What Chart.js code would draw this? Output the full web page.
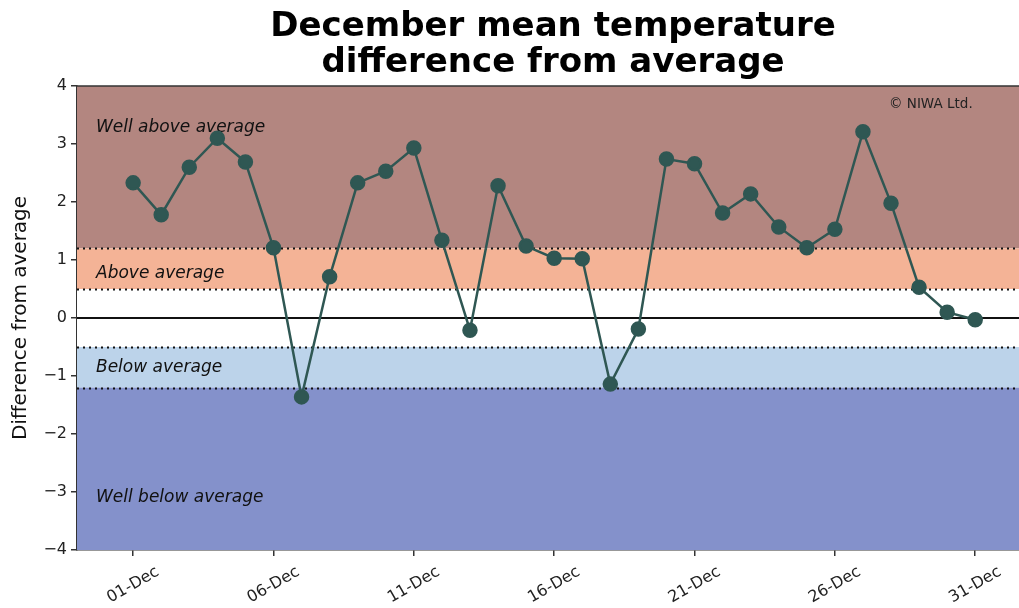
<!DOCTYPE html>
<html>
<head>
<meta charset="utf-8">
<script src="https://cdn.jsdelivr.net/npm/chart.js@4.4.0/dist/chart.umd.min.js"></script>
<style>
  html, body { margin: 0; padding: 0; background: #fff; }
  #wrap { width: 1019px; height: 608px; }
</style>
</head>
<body>
<div id="wrap"><canvas id="grafico" width="1019" height="608"></canvas></div>
<script>
// dias de dezembro e anomalias
const dias = [1,2,3,4,5,6,7,8,9,10,11,12,13,14,15,16,17,18,19,20,21,22,23,24,25,26,27,28,29,30,31];
const anomalias = [2.33,1.78,2.60,3.10,2.69,1.21,-1.36,0.71,2.33,2.53,2.93,1.34,-0.21,2.28,1.24,1.03,1.02,-1.14,-0.19,2.74,2.66,1.81,2.14,1.57,1.21,1.53,3.21,1.98,0.53,0.10,-0.03];
const diasTicks = [1,6,11,16,21,26,31];
const yTicks = [-4,-3,-2,-1,0,1,2,3,4];
// limites das faixas
const faixasLimites = [4, 1.2, 0.5, -0.5, -1.2, -4];
const faixasCores = ['#b38680', '#f4b396', '#ffffff', '#bcd3ea', '#8491cb'];
const faixasNomes = ['Well above average', 'Above average', '', 'Below average', 'Well below average'];
const linhasPontilhadas = [1.2, 0.5, -0.5, -1.2];

window.addEventListener('load', () => {
  const ctx = document.getElementById('grafico').getContext('2d');
  const fonte = '"DejaVu Sans", sans-serif';

  const faixasPlugin = {
    id: 'faixas',
    beforeDatasetsDraw(chart) {
      const c = chart.ctx, a = chart.chartArea, y = chart.scales.y;
      c.save();
      for (let i = 0; i < faixasCores.length; i++) {
        const y1 = y.getPixelForValue(faixasLimites[i]);
        const y2 = y.getPixelForValue(faixasLimites[i + 1]);
        c.fillStyle = faixasCores[i];
        c.fillRect(a.left, y1, a.right - a.left, y2 - y1);
      }
      // linhas pontilhadas
      c.strokeStyle = '#111';
      c.lineWidth = 2;
      c.setLineDash([2, 4]);
      linhasPontilhadas.forEach(v => {
        const py = Math.round(y.getPixelForValue(v)) + 0.5;
        c.beginPath(); c.moveTo(a.left, py); c.lineTo(a.right, py); c.stroke();
      });
      c.setLineDash([]);
      // linha zero
      const p0 = y.getPixelForValue(0);
      c.beginPath(); c.moveTo(a.left, p0); c.lineTo(a.right, p0); c.stroke();
      // textos das faixas
      c.fillStyle = '#111';
      c.font = 'italic 17px ' + fonte;
      c.textBaseline = 'middle';
      const posY = [3.29, 0.76, 0, -0.86, -3.1];
      faixasNomes.forEach((n, i) => {
        if (n) c.fillText(n, a.left + 19, y.getPixelForValue(posY[i]));
      });
      c.font = '13.5px ' + fonte;
      c.fillStyle = '#222';
      c.fillText('\u00a9 NIWA Ltd.', 889, 104);
      // borda superior
      c.strokeStyle = '#333';
      c.lineWidth = 1.5;
      c.beginPath(); c.moveTo(a.left, a.top); c.lineTo(a.right, a.top); c.stroke();
      c.restore();
    },
    afterDraw(chart) {
      const c = chart.ctx, x = chart.scales.x, a = chart.chartArea;
      c.save();
      // título
      c.fillStyle = '#000';
      c.font = 'bold 34px ' + fonte;
      c.textAlign = 'center';
      c.textBaseline = 'middle';
      c.fillText('December mean temperature', 553, 27);
      c.fillText('difference from average', 553, 63);
      // rótulos do eixo x, rotacionados e centralizados
      c.font = '16px ' + fonte;
      c.fillStyle = '#222';
      diasTicks.forEach(d => {
        const px = x.getPixelForValue(d);
        c.save();
        c.translate(px, a.bottom + 35);
        c.rotate(-Math.PI / 6);
        c.fillText(String(d).padStart(2, '0') + '-Dec', 0, 0);
        c.restore();
      });
      c.restore();
    }
  };

  new Chart(ctx, {
    type: 'line',
    data: {
      datasets: [{
        data: dias.map((d, i) => ({ x: d, y: anomalias[i] })),
        borderColor: '#2f5753',
        backgroundColor: '#2f5753',
        borderWidth: 2.5,
        pointRadius: 6.5,
        pointHoverRadius: 6.5,
        tension: 0
      }]
    },
    options: {
      responsive: false,
      animation: false,
      layout: { autoPadding: false, padding: { top: 86, right: 0, bottom: 0, left: 0 } },
      plugins: { legend: { display: false }, tooltip: { enabled: false } },
      scales: {
        x: {
          type: 'linear',
          min: -1,
          max: 32.56,
          afterBuildTicks: s => { s.ticks = diasTicks.map(v => ({ value: v })); },
          afterFit: s => { s.height = 58; },
          ticks: { display: false },
          grid: { drawOnChartArea: false, tickLength: 6, color: '#333', lineWidth: 1.5 },
          border: { color: '#333', width: 1.5 }
        },
        y: {
          min: -4,
          max: 4,
          afterBuildTicks: s => { s.ticks = yTicks.map(v => ({ value: v })); },
          afterFit: s => { s.width = 77; },
          ticks: {
            color: '#222',
            font: { family: fonte, size: 16 },
            padding: 4,
            callback: v => String(v).replace('-', '\u2212')
          },
          grid: { drawOnChartArea: false, tickLength: 6, color: '#333', lineWidth: 1.5 },
          border: { color: '#333', width: 1.5 },
          title: {
            display: true,
            text: 'Difference from average',
            color: '#111',
            font: { family: fonte, size: 20 },
            padding: { top: 9, bottom: 2 }
          }
        }
      }
    },
    plugins: [faixasPlugin]
  });
});
</script>
</body>
</html>
